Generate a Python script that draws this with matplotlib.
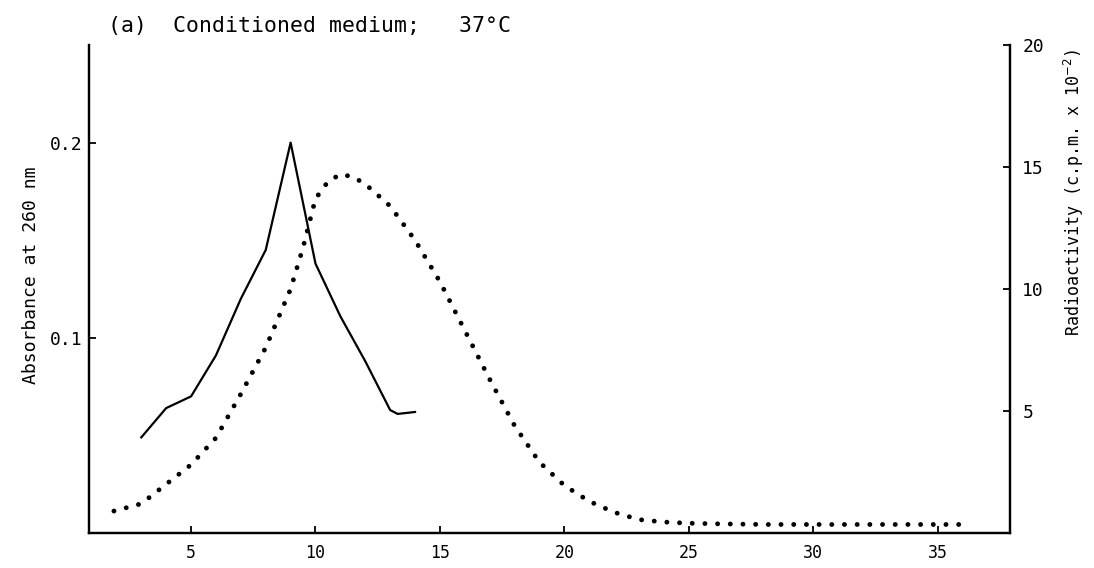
import numpy as np
import matplotlib.pyplot as plt

# fraction number (elution volume)
abs_x = [3, 4, 5, 6, 7, 8, 9, 10, 11, 12, 13, 13.3, 14]
# absorbance at 260 nm
abs_y = [0.049, 0.064, 0.070, 0.091, 0.120, 0.145, 0.200, 0.138, 0.111, 0.088,
         0.063, 0.061, 0.062]

rad_x = [1.9, 3, 4, 5, 6, 7, 8, 9, 9.5, 10, 10.5, 11, 11.5, 12, 13, 14, 15, 16,
         17, 18, 19, 20, 21, 22, 23, 24, 25, 26, 28, 30, 32, 34, 36]
# radioactivity, c.p.m. x 10^-2
rad_y = [0.9, 1.2, 2.0, 2.8, 3.9, 5.7, 7.6, 10.0, 11.7, 13.7, 14.4, 14.7, 14.6,
         14.3, 13.4, 12.0, 10.3, 8.3, 6.3, 4.4, 2.9, 1.95, 1.3, 0.85, 0.55, 0.45,
         0.4, 0.38, 0.35, 0.35, 0.35, 0.35, 0.35]

x_ticks = [5, 10, 15, 20, 25, 30, 35]
abs_ticks = [0.1, 0.2]
rad_ticks = [5, 10, 15, 20]

plt.rcParams['font.family'] = 'DejaVu Sans Mono'

fig = plt.figure(figsize=(10.94, 5.68), dpi=100)
ax = fig.add_axes([0.0814, 0.0616, 0.8416, 0.8592])
ax2 = ax.twinx()

ax.plot(abs_x, abs_y, color='black', lw=1.6, solid_joinstyle='round')
ax2.plot(rad_x, rad_y, color='black', lw=3.5, linestyle=(0, (0.01, 2.6)),
         dash_capstyle='round')

ax.set_xlim(0.9, 37.9)
ax.set_ylim(0, 0.25)
ax2.set_ylim(0, 20)

ax.set_xticks(x_ticks)
ax.set_yticks(abs_ticks)
ax.set_yticklabels(['0.1', '0.2'])
ax2.set_yticks(rad_ticks)

ax.tick_params(axis='x', direction='in', length=5, width=1.3, pad=8, labelsize=12)
ax.tick_params(axis='y', direction='in', length=5, width=1.3, pad=5, labelsize=13)
ax2.tick_params(axis='y', direction='in', length=5, width=1.3, pad=9, labelsize=13)

for a in (ax, ax2):
    a.spines['top'].set_visible(False)
    for side in ('left', 'right', 'bottom'):
        a.spines[side].set_linewidth(1.6)

fig.text(0.028, 0.515, 'Absorbance at 260 nm', rotation=90,
         ha='center', va='center', fontsize=13)
fig.text(0.982, 0.66, 'Radioactivity (c.p.m. x 10$^{-2}$)', rotation=90,
         ha='center', va='center', fontsize=12)

fig.text(0.099, 0.955, '(a)  Conditioned medium;   37°C', fontsize=15.5,
         ha='left', va='center')

fig.savefig('out.png', dpi=100)
